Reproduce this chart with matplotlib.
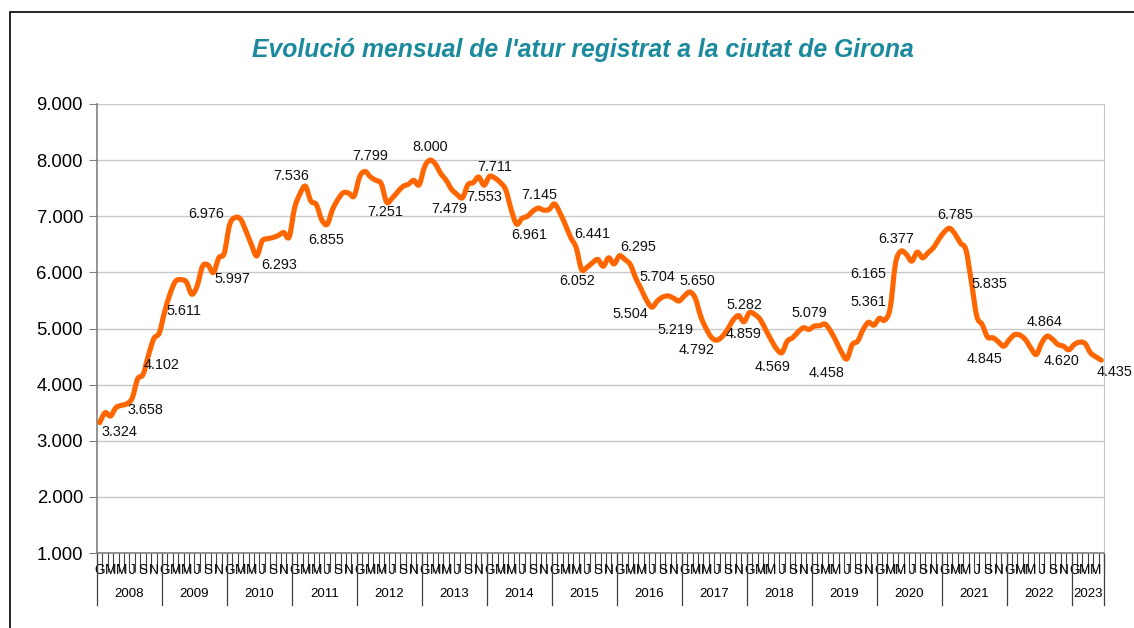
import matplotlib
matplotlib.use("Agg")
import matplotlib.pyplot as plt
import numpy as np
from matplotlib.path import Path
from matplotlib.patches import PathPatch, Rectangle

plt.rcParams['font.family'] = ['Liberation Sans', 'DejaVu Sans']

#---- data: registered unemployment, Girona city, Jan 2008 - Jun 2023 ----#
years = [str(y) for y in range(2008, 2024)]
month_initials = ['G', 'F', 'M', 'A', 'M', 'J', 'J', 'A', 'S', 'O', 'N', 'D']

atur = [
    3324, 3500, 3440, 3590, 3630, 3658, 3760, 4102, 4180, 4520, 4820, 4920,   # 2008
    5300, 5620, 5840, 5870, 5830, 5611, 5760, 6110, 6130, 5997, 6260, 6340,   # 2009
    6850, 6976, 6950, 6740, 6500, 6293, 6560, 6600, 6620, 6660, 6710, 6630,   # 2010
    7150, 7400, 7536, 7270, 7210, 6940, 6855, 7120, 7300, 7420, 7410, 7360,   # 2011
    7700, 7799, 7700, 7640, 7580, 7251, 7320, 7430, 7530, 7570, 7640, 7560,   # 2012
    7880, 8000, 7930, 7760, 7640, 7479, 7390, 7330, 7560, 7600, 7700, 7553,   # 2013
    7711, 7680, 7600, 7470, 7120, 6860, 6961, 7000, 7090, 7145, 7110, 7120,   # 2014
    7220, 7060, 6850, 6620, 6441, 6052, 6090, 6170, 6230, 6110, 6260, 6150,   # 2015
    6295, 6230, 6140, 5900, 5704, 5504, 5380, 5490, 5560, 5580, 5540, 5490,   # 2016
    5580, 5650, 5540, 5219, 5000, 4840, 4792, 4859, 4990, 5150, 5230, 5120,   # 2017
    5282, 5250, 5160, 4980, 4800, 4640, 4569, 4775, 4835, 4940, 5013, 4983,   # 2018
    5043, 5050, 5079, 4953, 4775, 4580, 4458, 4715, 4775, 4980, 5110, 5060,   # 2019
    5180, 5150, 5361, 6165, 6377, 6320, 6200, 6360, 6260, 6350, 6440, 6590,   # 2020
    6720, 6785, 6680, 6520, 6400, 5835, 5220, 5070, 4845, 4835, 4760, 4685,   # 2021
    4800, 4890, 4880, 4800, 4650, 4537, 4745, 4864, 4806, 4715, 4685, 4620,   # 2022
    4715, 4757, 4733, 4567, 4495, 4435,                                       # 2023
]

# months that carry a data label, with the label offset (pixels) from the point
labelled = [
    (0, 20, -9), (5, 19, -6), (7, 24, 14), (17, -8, -17), (21, 19, -6),
    (25, -29, 4), (29, 22, -9), (38, -14, 10), (42, -1, -16), (49, 5, 15),
    (53, -1, -10), (61, 0, 13), (65, -2, -20), (71, 0, -12), (72, 5, 9),
    (78, 7, -17), (81, 1, 13), (88, 16, 14), (89, -4, -12), (96, 19, 9),
    (100, 16, 12), (101, -16, -14), (109, 7, 11), (111, -25, -14), (114, -20, -10),
    (115, 21, 2), (120, -5, 8), (126, -9, -14), (134, -16, 11), (138, -20, -14),
    (146, -22, 6), (147, -27, -11), (148, -5, 12), (157, 5, 13), (161, 18, -2),
    (164, -3, -22), (175, -3, 14), (179, -7, -11), (185, 13, -12),
]

n = len(atur)
x = np.arange(n)
y = np.array(atur, dtype=float)

fig = plt.figure(figsize=(11.34, 6.28), dpi=100)
W, H = 1134, 628

# outer chart frame
fig.patches.append(Rectangle((10 / W, -0.1), 1.2, 1 - 12 / H + 0.1, transform=fig.transFigure,
                             fill=False, edgecolor='black', lw=1.2))

ax = fig.add_axes([97 / W, 1 - 553 / H, (1104 - 97) / W, (553 - 104) / H])
ax.set_xlim(-0.5, n - 0.5)
ax.set_ylim(1000, 9000)

#---- smoothed line (Bezier through every monthly point, like Excel) ----#
pts = np.column_stack([x, y])
verts = [pts[0]]
codes = [Path.MOVETO]
for i in range(n - 1):
    p0 = pts[max(i - 1, 0)]
    p1 = pts[i]
    p2 = pts[i + 1]
    p3 = pts[min(i + 2, n - 1)]
    verts += [p1 + (p2 - p0) / 6.0, p2 - (p3 - p1) / 6.0, p2]
    codes += [Path.CURVE4] * 3
ax.add_patch(PathPatch(Path(verts, codes), facecolor='none', edgecolor='#ff6600',
                       lw=3.7, capstyle='round', joinstyle='round', zorder=3))

# data labels
for i, dx, dy in labelled:
    txt = f"{atur[i]:,}".replace(",", ".")
    ax.annotate(txt, (x[i], y[i]), xytext=(dx, dy), textcoords='offset pixels',
                ha='center', va='center', fontsize=10.4, color='#111111', zorder=4,
                annotation_clip=False)

#---- y axis ----#
yt = np.arange(1000, 9001, 1000)
ax.set_yticks(yt)
ax.set_yticklabels([f"{v:,}".replace(",", ".") for v in yt], fontsize=13.3)
ax.yaxis.grid(True, color='#c8c8c8', lw=1)
ax.set_axisbelow(True)
ax.tick_params(axis='y', length=6, color='#808080', pad=4)

ax.spines['top'].set_visible(False)
ax.spines['right'].set_color('#c8c8c8')
ax.spines['left'].set_color('#808080')
ax.spines['bottom'].set_color('#808080')
ax.spines['left'].set_linewidth(1.2)
ax.spines['bottom'].set_linewidth(1.2)

#---- x axis: monthly ticks, every other month initial, years below ----#
ax.set_xticks(np.arange(-0.5, n, 1.0))
ax.set_xticklabels([])
ax.tick_params(axis='x', which='major', length=14, color='#404040', width=0.8)
lab_pos = [i for i in range(n) if i % 2 == 0]
ax.set_xticks(lab_pos, minor=True)
ax.set_xticklabels([month_initials[i % 12] for i in lab_pos], minor=True, fontsize=9.8)
ax.tick_params(axis='x', which='minor', length=0, pad=7)

trans = ax.get_xaxis_transform()
bounds = list(range(0, n, 12)) + [n]
for b in bounds:
    ax.plot([b - 0.5, b - 0.5], [0, -0.115], transform=trans, color='#404040', lw=0.9,
            clip_on=False)
for k, yr in enumerate(years):
    a, b = bounds[k], bounds[k + 1]
    ax.text((a + b - 1) / 2.0, -0.092, yr, transform=trans, ha='center', va='center',
            fontsize=9.5)

fig.text(583 / W, 1 - 50 / H, "Evolució mensual de l'atur registrat a la ciutat de Girona",
         ha='center', va='center', fontsize=17.8, fontweight='bold', style='italic',
         color='#1a8a9c')

fig.savefig('out.png', dpi=100)
